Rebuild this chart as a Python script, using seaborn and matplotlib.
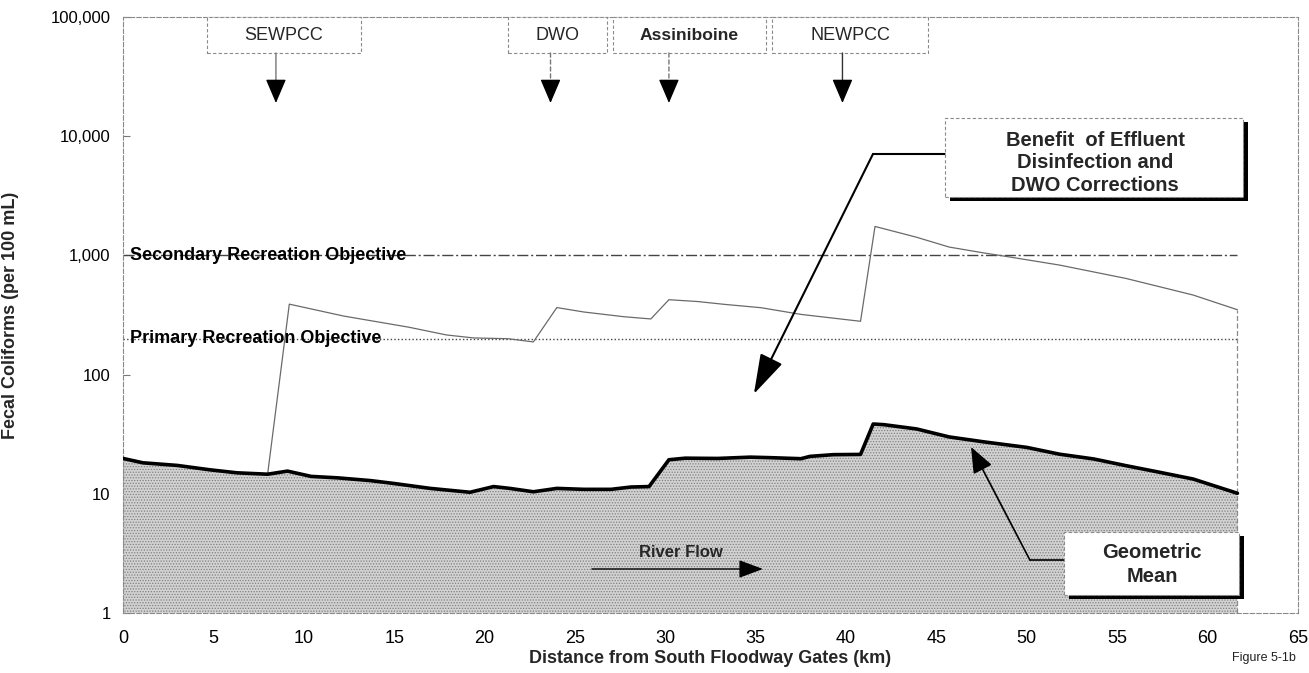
import matplotlib
matplotlib.use("Agg")
import matplotlib.pyplot as plt
from matplotlib.patches import Rectangle
from matplotlib.ticker import FuncFormatter, NullLocator, FixedLocator
import seaborn as sns
import pandas as pd

# ---------------- data ----------------
# Geometric mean fecal coliforms (per 100 mL) vs distance (km)
gm_km = [0, 1.1, 3.0, 4.8, 6.3, 8.0, 9.1, 10.4, 11.9, 13.7, 15.0, 17.0, 19.2, 20.5, 21.4,
         22.7, 24.0, 25.5, 27.0, 28.1, 29.1, 30.2, 31.1, 32.9, 34.7, 35.8, 37.5, 38.0, 39.3,
         40.8, 41.5, 42.1, 43.9, 45.7, 47.6, 50.0, 51.8, 53.7, 55.5, 57.3, 59.2, 61.65]
gm_val = [19.8, 18.2, 17.3, 15.9, 15.0, 14.6, 15.5, 14.0, 13.6, 12.9, 12.2, 11.1, 10.3, 11.5, 11.1,
          10.4, 11.1, 10.9, 10.9, 11.4, 11.5, 19.3, 19.9, 19.8, 20.3, 20.1, 19.7, 20.6, 21.3,
          21.4, 38.5, 38.0, 35.0, 30.0, 27.3, 24.5, 21.5, 19.6, 17.2, 15.2, 13.3, 10.1]

# Existing conditions (without effluent disinfection / DWO corrections)
up_km = [8.0, 9.2, 12.2, 15.8, 17.9, 19.4, 21.3, 22.7, 24.0, 25.5, 27.7, 29.2, 30.2, 31.8,
         33.3, 35.3, 37.5, 40.8, 41.6, 43.9, 45.7, 47.6, 48.5, 51.8, 55.5, 59.2, 61.65]
up_val = [14.6, 390, 310, 250, 215, 203, 200, 188, 365, 335, 306, 293, 425, 410,
          388, 364, 320, 280, 1750, 1420, 1175, 1050, 1000, 830, 640, 465, 350]

objective_names = ["Secondary Recreation Objective", "Primary Recreation Objective"]
objective_values = [1000, 200]

outfall_names = ["SEWPCC", "DWO", "Assiniboine", "NEWPCC"]
outfall_km = [8.46, 23.65, 30.2, 39.8]

x_ticks = [0, 5, 10, 15, 20, 25, 30, 35, 40, 45, 50, 55, 60, 65]
y_ticks = [1, 10, 100, 1000, 10000, 100000]

# ---------------- style ----------------
sns.set_theme(style="white")
plt.rcParams["font.family"] = ["Liberation Sans", "DejaVu Sans"]
plt.rcParams["hatch.linewidth"] = 0.6
plt.rcParams["hatch.color"] = "#777777"

W, H = 1309, 673
fig = plt.figure(figsize=(W / 100, H / 100), dpi=100)
L, R, T, B = 123, 1298, 17, 613
ax = fig.add_axes([L / W, 1 - B / H, (R - L) / W, (B - T) / H])

def fx(px):
    return (px - L) / (R - L)

def fy(py):
    return (B - py) / (B - T)

gm = pd.DataFrame({"km": gm_km, "val": gm_val})
up = pd.DataFrame({"km": up_km, "val": up_val})

ax.set_yscale("log")
ax.set_xlim(0, 65)
ax.set_ylim(1, 100000)

# stippled area under geometric mean
ax.fill_between(gm["km"], 1, gm["val"], facecolor="#d2d2d2", hatch="......",
                edgecolor="#808080", linewidth=0, zorder=1)

# upper (existing) line
sns.lineplot(data=up, x="km", y="val", ax=ax, color="#6a6a6a", linewidth=0.9, zorder=3,
             estimator=None, sort=False)
ax.vlines(up_km[-1], 1, up_val[-1], colors="#8a8a8a", linewidth=0.9,
          linestyles=(0, (4, 2)), zorder=3)

# objectives
ax.hlines(objective_values[0], 0, up_km[-1], colors="#444444", linewidth=1.0,
          linestyles=(0, (8, 2, 1.5, 2)), zorder=2)
ax.hlines(objective_values[1], 0, up_km[-1], colors="#444444", linewidth=1.0,
          linestyles=(0, (1, 1.6)), zorder=2)
for name, v in zip(objective_names, objective_values):
    ax.text(0.39, v, name, fontsize=13, fontweight="bold", ha="left", va="center",
            color="black", zorder=4)

# geometric mean line
sns.lineplot(data=gm, x="km", y="val", ax=ax, color="black", linewidth=2.6, zorder=4,
             estimator=None, sort=False)

# ---------------- axes ----------------
ax.xaxis.set_major_locator(FixedLocator(x_ticks))
ax.yaxis.set_major_locator(FixedLocator(y_ticks))
ax.yaxis.set_minor_locator(NullLocator())
ax.yaxis.set_major_formatter(FuncFormatter(lambda v, p: f"{v:,.0f}"))
ax.tick_params(axis="x", length=0, pad=12, labelsize=13, colors="black")
ax.tick_params(axis="y", length=5, direction="in", width=0.8, color="#777777",
               pad=9, labelsize=12, labelcolor="black", left=True)
for s in ax.spines.values():
    s.set_visible(True)
    s.set_color("#8a8a8a")
    s.set_linewidth(0.8)
    s.set_linestyle((0, (4, 2)))
ax.grid(False)

ax.set_xlabel("Distance from South Floodway Gates (km)", fontsize=13, fontweight="bold")
ax.xaxis.set_label_coords(0.5, fy(650))
ax.set_ylabel("Fecal Coliforms (per 100 mL)", fontsize=13, fontweight="bold")
ax.yaxis.set_label_coords(fx(19), 0.5)

fig.text(1296 / W, 1 - 658 / H, "Figure 5-1b", fontsize=9, ha="right", va="center",
         color="#222222")

# ---------------- annotation boxes ----------------
def box(x0, x1, y0, y1, shadow=False, z=6):
    if shadow:
        ax.add_patch(Rectangle((fx(x0) + 5 / (R - L), fy(y1) - 4 / (B - T)),
                               fx(x1) - fx(x0), fy(y0) - fy(y1), transform=ax.transAxes,
                               facecolor="black", edgecolor="none", zorder=z - 1,
                               clip_on=False))
    ax.add_patch(Rectangle((fx(x0), fy(y1)), fx(x1) - fx(x0), fy(y0) - fy(y1),
                           transform=ax.transAxes, facecolor="white", edgecolor="#8a8a8a",
                           linewidth=0.8, linestyle=(0, (3, 2)), zorder=z, clip_on=False))

top_boxes = [(207, 361), (508, 607), (613, 766), (772, 928)]
arrow_styles = [("#777777", "-"), ("#777777", (0, (3, 2))), ("#777777", (0, (3, 2))),
                ("#333333", "-")]
for name, km, (bx0, bx1), (ac, als) in zip(outfall_names, outfall_km, top_boxes, arrow_styles):
    box(bx0, bx1, 17, 53)
    ax.text((fx(bx0) + fx(bx1)) / 2, fy(35), name, transform=ax.transAxes,
            fontsize=13 if name != "Assiniboine" else 12.6,
            fontweight="bold" if name == "Assiniboine" else "normal",
            ha="center", va="center", zorder=8)
    ax.annotate("", xy=(km, fy(103)), xytext=(km, fy(53)),
                xycoords=("data", "axes fraction"), textcoords=("data", "axes fraction"),
                arrowprops=dict(arrowstyle="-", color=ac, lw=1.0, linestyle=als,
                                shrinkA=0, shrinkB=12), zorder=7)
    ax.annotate("", xy=(km, fy(103)), xytext=(km, fy(88)),
                xycoords=("data", "axes fraction"), textcoords=("data", "axes fraction"),
                arrowprops=dict(arrowstyle="-|>,head_length=0.75,head_width=0.32",
                                mutation_scale=20, color="black", lw=1.0,
                                shrinkA=0, shrinkB=0), zorder=7)

# Benefit box
box(945, 1243, 118, 197, shadow=True, z=7)
for line, py in zip(["Benefit  of Effluent", "Disinfection and", "DWO Corrections"],
                    [140, 163, 186]):
    ax.text(fx(1095), fy(py), line, transform=ax.transAxes, fontsize=14.5,
            fontweight="bold", ha="center", va="center", zorder=9)
ax.plot([45.47, 41.49], [7100, 7100], color="black", lw=1.5, zorder=5)
ax.annotate("", xy=(34.9, 68.8), xytext=(41.49, 7100),
            arrowprops=dict(arrowstyle="-|>,head_length=1.25,head_width=0.38",
                            mutation_scale=20, color="black", lw=1.5,
                            shrinkA=0, shrinkB=0), zorder=5)

# Geometric mean box
box(1064, 1239, 532, 595, shadow=True, z=7)
for line, py in zip(["Geometric", "Mean"], [552, 576]):
    ax.text(fx(1152), fy(py), line, transform=ax.transAxes, fontsize=14.5,
            fontweight="bold", ha="center", va="center", zorder=9)
ax.plot([52.05, 50.17], [2.78, 2.78], color="black", lw=1.2, zorder=5)
ax.annotate("", xy=(46.91, 24.7), xytext=(50.17, 2.78),
            arrowprops=dict(arrowstyle="-|>,head_length=0.8,head_width=0.32",
                            mutation_scale=20, color="black", lw=1.2,
                            shrinkA=0, shrinkB=0), zorder=5)

# River flow
ax.text(30.87, 3.19, "River Flow", fontsize=12, fontweight="bold", ha="center",
        va="center", zorder=6)
ax.annotate("", xy=(35.4, 2.34), xytext=(25.94, 2.34),
            arrowprops=dict(arrowstyle="-|>,head_length=0.75,head_width=0.28",
                            mutation_scale=20, color="black", lw=1.0,
                            shrinkA=0, shrinkB=0), zorder=6)

fig.savefig("out.png", dpi=100)
